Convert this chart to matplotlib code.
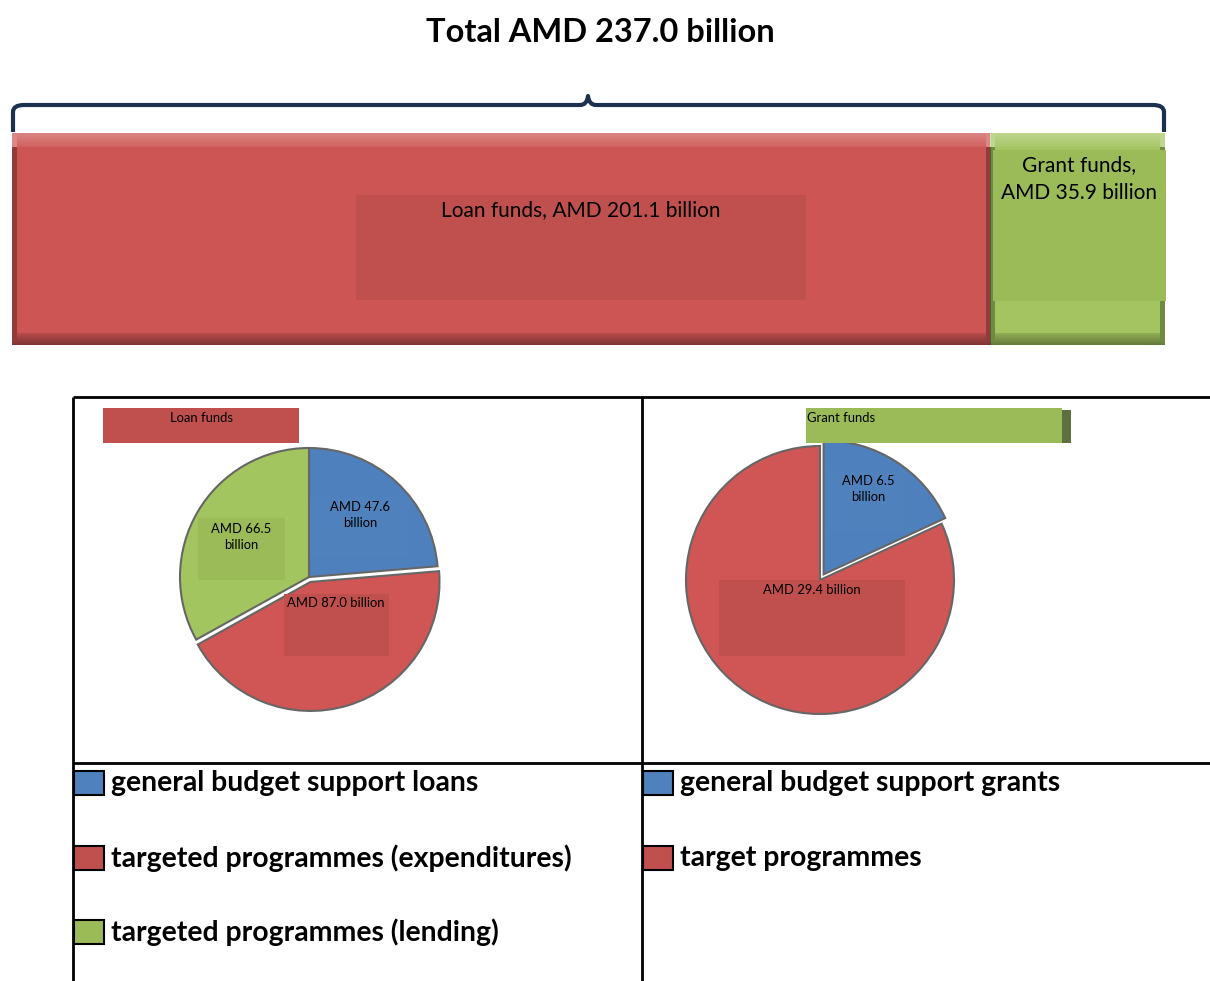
import numpy as np
import matplotlib.pyplot as plt
from matplotlib.patches import Rectangle, PathPatch
from matplotlib.path import Path

plt.rcParams['font.family'] = ['Lato', 'DejaVu Sans']

W, H = 1210, 981

total_label = "Total AMD 237.0 billion"
funds = ["Loan funds", "Grant funds"]
fund_values = [201.1, 35.9]
fund_labels = ["Loan funds, AMD 201.1 billion", "Grant funds,\nAMD 35.9 billion"]

loan_parts = ["general budget support loans",
              "targeted programmes (expenditures)",
              "targeted programmes (lending)"]
loan_values = [47.6, 87.0, 66.5]
loan_labels = ["AMD 47.6\nbillion", "AMD 87.0 billion", "AMD 66.5\nbillion"]

grant_parts = ["general budget support grants", "target programmes"]
grant_values = [6.5, 29.4]
grant_labels = ["AMD 6.5\nbillion", "AMD 29.4 billion"]

BLUE = "#4F81BD"
RED = "#C0504D"
GREEN = "#9BBB59"
BAR_RED = "#CD5654"
BAR_GREEN = "#A3C460"
PIE_BLUE = "#4E80BE"
PIE_RED = "#CF5655"
PIE_GREEN = "#A3C560"


def px_axes(x0, y0, x1, y1, **kw):
    return fig.add_axes([x0 / W, 1 - y1 / H, (x1 - x0) / W, (y1 - y0) / H], **kw)


def box(ax, x0, y0, x1, y1, color, **kw):
    ax.add_patch(Rectangle((x0, y0), x1 - x0, y1 - y0, facecolor=color,
                           edgecolor="none", **kw))


def bevel(nx, ny):
    # RGBA shading: light top edge, dark bottom and side edges
    img = np.zeros((ny, nx, 4))
    rows = np.arange(ny)[:, None] * np.ones((1, nx))
    cols = np.ones((ny, 1)) * np.arange(nx)[None, :]
    top = rows < 14
    img[top, :3] = 1.0
    img[top, 3] = 0.28 * (1 - rows[top] / 18)
    bottom = rows >= ny - 12
    img[bottom, 3] = 0.12 + 0.28 * (rows[bottom] - (ny - 12)) / 12
    side = (cols < 5) | (cols >= nx - 5)
    img[side & ~top, :3] = 0.0
    img[side, 3] = np.maximum(img[side, 3], 0.3)
    return img


fig = plt.figure(figsize=(W / 100, H / 100), dpi=100)

# background layer: brace, table grid, legends
bg = px_axes(0, 0, W, H, zorder=0)
bg.set_xlim(0, W)
bg.set_ylim(H, 0)
bg.axis("off")

bg.text(600, 32, total_label, ha="center", va="center", fontsize=23.5,
        fontweight="bold")

# curly brace over the whole bar
brace = Path([(13, 132), (13, 112), (13, 105), (24, 105), (580, 105),
              (587, 105), (588, 96), (589, 105), (596, 105), (1153, 105),
              (1164, 105), (1164, 112), (1164, 132)],
             [Path.MOVETO, Path.LINETO, Path.CURVE3, Path.CURVE3, Path.LINETO,
              Path.CURVE3, Path.CURVE3, Path.CURVE3, Path.CURVE3, Path.LINETO,
              Path.CURVE3, Path.CURVE3, Path.LINETO])
bg.add_patch(PathPatch(brace, facecolor="none", edgecolor="#1C3150", lw=3,
                       capstyle="butt", joinstyle="round"))

# table grid
grid_kw = dict(color="black", lw=2, solid_capstyle="butt")
bg.plot([73, W], [397, 397], **grid_kw)
bg.plot([73, W], [763, 763], **grid_kw)
bg.plot([73, 73], [397, H], **grid_kw)
bg.plot([642, 642], [397, H], **grid_kw)

# legends under the pies
legend_rows = [783, 858, 932]
for x0, parts, colors in [(74, loan_parts, [BLUE, RED, GREEN]),
                          (643, grant_parts, [BLUE, RED])]:
    for y, name, c in zip(legend_rows, parts, colors):
        bg.add_patch(Rectangle((x0, y - 12), 30, 24, facecolor=c,
                               edgecolor="black", lw=1.5))
        bg.text(x0 + 37, y, name, ha="left", va="center", fontsize=20.4,
                fontweight="bold")

# stacked bar of loan and grant funds
ax_bar = px_axes(12, 133, 1165, 345, zorder=1)
total = sum(fund_values)
lefts = np.cumsum([0] + fund_values[:-1])
for left, val, c in zip(lefts, fund_values, [BAR_RED, BAR_GREEN]):
    ax_bar.barh(0, val, left=left, height=1.0, color=c, linewidth=0)
    nx = max(int(round(val / total * 1153)), 12)
    ax_bar.imshow(bevel(nx, 212), extent=[left, left + val, -0.5, 0.5],
                  aspect="auto", interpolation="bilinear", zorder=3)
ax_bar.set_xlim(0, total)
ax_bar.set_ylim(-0.5, 0.5)
ax_bar.axis("off")

# pies
pie_specs = [((309, 577), 129, loan_values, [PIE_BLUE, PIE_RED, PIE_GREEN],
              [0, 0.04, 0]),
             ((820, 580), 134, grant_values, [PIE_BLUE, PIE_RED], [0.05, 0])]
for (cx, cy), r, vals, cols, expl in pie_specs:
    pad = 1.12
    ax = px_axes(cx - pad * r, cy - pad * r, cx + pad * r, cy + pad * r,
                 zorder=1)
    wedges, _ = ax.pie(vals, colors=cols, startangle=90, counterclock=False,
                       explode=expl,
                       wedgeprops=dict(edgecolor="#666666", linewidth=1.5))
    ax.set_xlim(-pad, pad)
    ax.set_ylim(-pad, pad)
    ax.set_aspect("equal")
    ax.axis("off")

# foreground layer: label boxes and texts
fg = px_axes(0, 0, W, H, zorder=5)
fg.set_xlim(0, W)
fg.set_ylim(H, 0)
fg.axis("off")
fg.patch.set_alpha(0)

box(fg, 356, 195, 806, 300, RED)
fg.text(581, 210, fund_labels[0], ha="center", va="center", fontsize=15)
box(fg, 993, 150, 1166, 301, GREEN)
fg.text(1079, 179, fund_labels[1], ha="center", va="center", fontsize=15,
        linespacing=1.45)

box(fg, 103, 408, 299, 443, RED)
fg.text(201, 418, funds[0], ha="center", va="center", fontsize=9.4)
box(fg, 806, 408, 1062, 443, GREEN)
box(fg, 1062, 410, 1071, 443, "#5E7040")
fg.text(807, 418, funds[1], ha="left", va="center", fontsize=9.4)

small = dict(ha="center", va="center", fontsize=9.4, linespacing=1.35)
box(fg, 310, 497, 408, 557, BLUE)
fg.text(360, 515, loan_labels[0], **small)
box(fg, 284, 594, 389, 656, RED)
fg.text(336, 603, loan_labels[1], **small)
box(fg, 198, 518, 285, 580, GREEN)
fg.text(241, 537, loan_labels[2], **small)

box(fg, 831, 470, 905, 532, BLUE)
fg.text(868, 489, grant_labels[0], **small)
box(fg, 719, 580, 905, 656, RED)
fg.text(812, 590, grant_labels[1], **small)

fig.savefig("out.png", dpi=100)
